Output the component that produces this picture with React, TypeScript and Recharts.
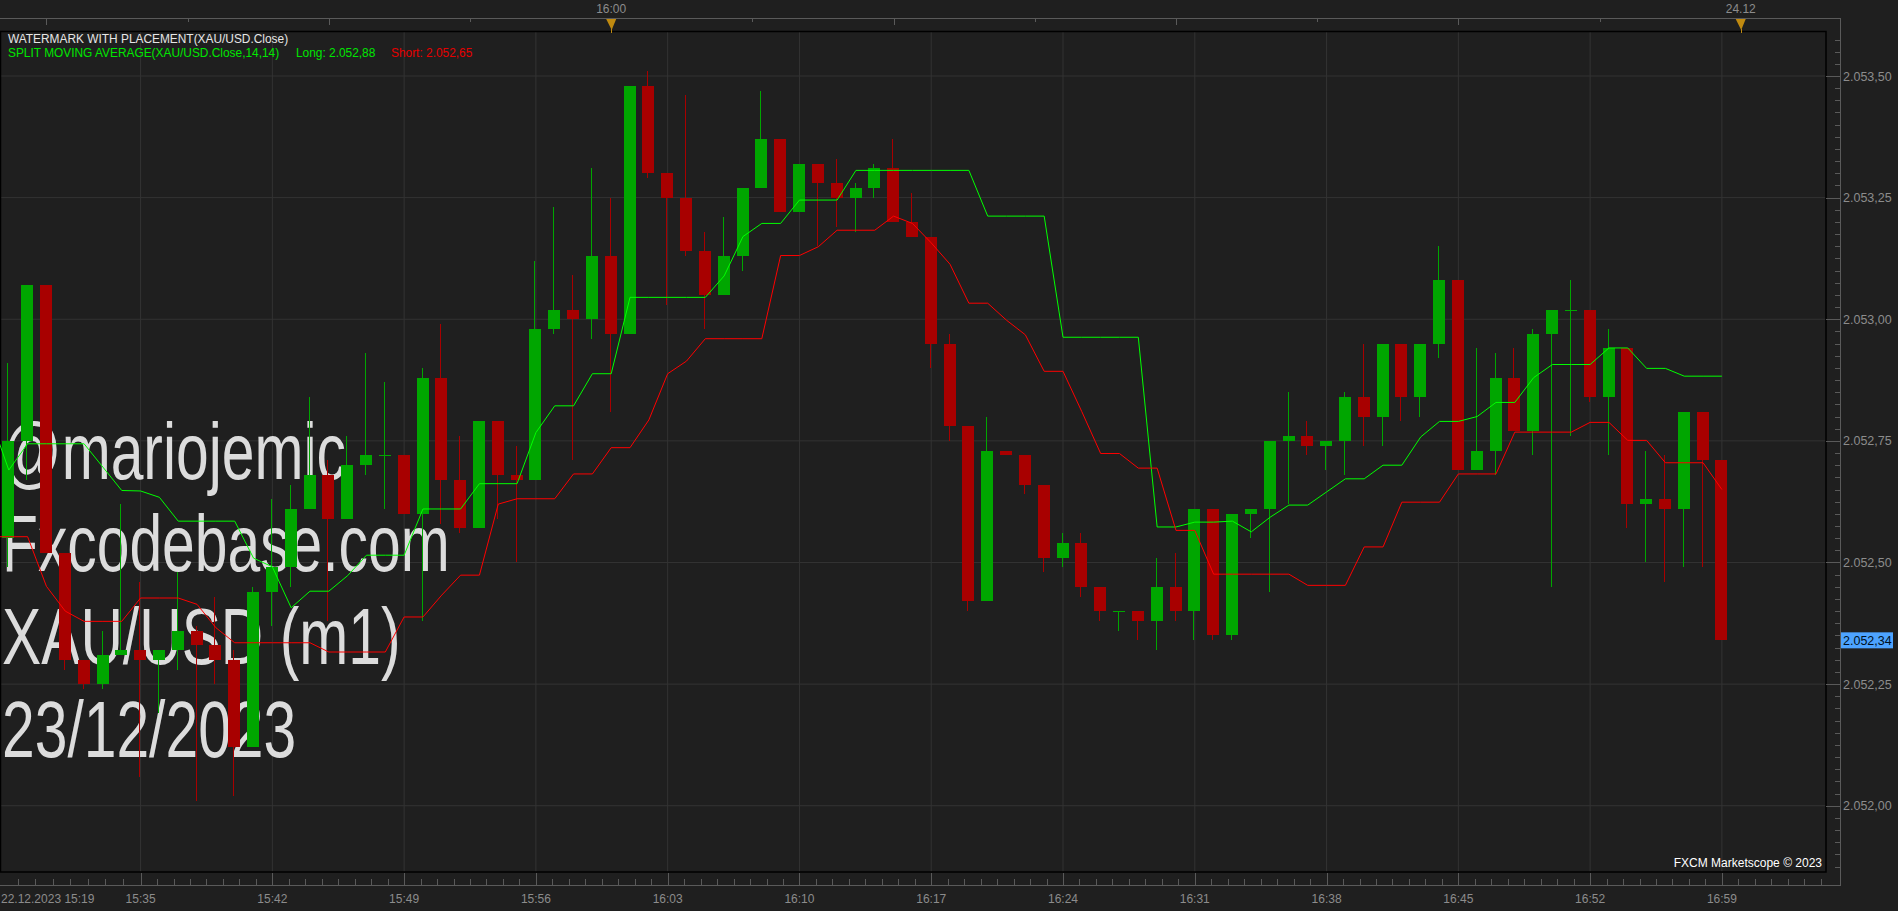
import React from 'react';
import { ComposedChart, Bar, Line, XAxis, YAxis, CartesianGrid, Customized } from 'recharts';

const TIMES = [
  '15:28','15:29','15:30','15:31','15:32','15:33','15:34','15:35','15:36','15:37',
  '15:38','15:39','15:40','15:41','15:42','15:43','15:44','15:45','15:46','15:47',
  '15:48','15:49','15:50','15:51','15:52','15:53','15:54','15:55','15:56','15:57',
  '15:58','15:59','16:00','16:01','16:02','16:03','16:04','16:05','16:06','16:07',
  '16:08','16:09','16:10','16:11','16:12','16:13','16:14','16:15','16:16','16:17',
  '16:18','16:19','16:20','16:21','16:22','16:23','16:24','16:25','16:26','16:27',
  '16:28','16:29','16:30','16:31','16:32','16:33','16:34','16:35','16:36','16:37',
  '16:38','16:39','16:40','16:41','16:42','16:43','16:44','16:45','16:46','16:47',
  '16:48','16:49','16:50','16:51','16:52','16:53','16:54','16:55','16:56','16:57',
  '16:58','16:59',
];

const OPEN = [
  2052.55, 2052.75, 2053.07, 2052.52, 2052.30, 2052.25, 2052.31, 2052.32, 2052.30, 2052.32,
  2052.36, 2052.33, 2052.30, 2052.12, 2052.44, 2052.49, 2052.61, 2052.68, 2052.59, 2052.70,
  2052.72, 2052.72, 2052.60, 2052.88, 2052.67, 2052.57, 2052.79, 2052.68, 2052.67, 2052.98,
  2053.02, 2053.00, 2053.13, 2052.97, 2053.48, 2053.30, 2053.25, 2053.14, 2053.05, 2053.13,
  2053.27, 2053.37, 2053.22, 2053.32, 2053.28, 2053.25, 2053.27, 2053.31, 2053.20, 2053.17,
  2052.95, 2052.78, 2052.42, 2052.73, 2052.72, 2052.66, 2052.51, 2052.54, 2052.45, 2052.40,
  2052.40, 2052.38, 2052.45, 2052.40, 2052.61, 2052.35, 2052.60, 2052.61, 2052.75, 2052.76,
  2052.74, 2052.75, 2052.84, 2052.80, 2052.95, 2052.84, 2052.95, 2053.08, 2052.69, 2052.73,
  2052.88, 2052.77, 2052.97, 2053.02, 2053.02, 2052.84, 2052.94, 2052.62, 2052.63, 2052.61,
  2052.81, 2052.71,
];

const HIGH = [
  2052.91, 2053.07, 2053.07, 2052.52, 2052.30, 2052.36, 2052.62, 2052.46, 2052.32, 2052.48,
  2052.37, 2052.43, 2052.32, 2052.45, 2052.63, 2052.66, 2052.84, 2052.71, 2052.76, 2052.93,
  2052.87, 2052.72, 2052.90, 2052.99, 2052.76, 2052.79, 2052.79, 2052.74, 2053.12, 2053.23,
  2053.09, 2053.31, 2053.25, 2053.48, 2053.51, 2053.30, 2053.46, 2053.18, 2053.21, 2053.27,
  2053.47, 2053.37, 2053.32, 2053.32, 2053.33, 2053.28, 2053.32, 2053.37, 2053.26, 2053.17,
  2052.97, 2052.78, 2052.80, 2052.73, 2052.72, 2052.66, 2052.56, 2052.56, 2052.45, 2052.40,
  2052.40, 2052.51, 2052.52, 2052.61, 2052.61, 2052.60, 2052.61, 2052.75, 2052.85, 2052.79,
  2052.75, 2052.85, 2052.95, 2052.95, 2052.95, 2052.95, 2053.15, 2053.08, 2052.94, 2052.93,
  2052.94, 2052.98, 2053.02, 2053.08, 2053.02, 2052.98, 2052.94, 2052.73, 2052.72, 2052.81,
  2052.81, 2052.71,
];

const LOW = [
  2052.49, 2052.67, 2052.52, 2052.28, 2052.24, 2052.24, 2052.31, 2052.06, 2052.19, 2052.28,
  2052.01, 2052.25, 2052.02, 2052.12, 2052.37, 2052.45, 2052.61, 2052.38, 2052.59, 2052.68,
  2052.61, 2052.60, 2052.38, 2052.58, 2052.56, 2052.57, 2052.59, 2052.50, 2052.67, 2052.97,
  2052.71, 2052.96, 2052.81, 2052.97, 2053.29, 2053.03, 2053.13, 2052.98, 2053.05, 2053.10,
  2053.27, 2053.22, 2053.22, 2053.15, 2053.19, 2053.18, 2053.25, 2053.20, 2053.17, 2052.90,
  2052.75, 2052.40, 2052.42, 2052.72, 2052.64, 2052.48, 2052.49, 2052.43, 2052.38, 2052.36,
  2052.34, 2052.32, 2052.38, 2052.34, 2052.34, 2052.34, 2052.55, 2052.44, 2052.62, 2052.72,
  2052.69, 2052.68, 2052.74, 2052.74, 2052.79, 2052.80, 2052.92, 2052.69, 2052.69, 2052.68,
  2052.77, 2052.72, 2052.45, 2052.76, 2052.83, 2052.72, 2052.57, 2052.50, 2052.46, 2052.49,
  2052.49, 2052.34,
];

const CLOSE = [
  2052.75, 2053.07, 2052.52, 2052.30, 2052.25, 2052.31, 2052.32, 2052.30, 2052.32, 2052.36,
  2052.33, 2052.30, 2052.12, 2052.44, 2052.49, 2052.61, 2052.68, 2052.59, 2052.70, 2052.72,
  2052.72, 2052.60, 2052.88, 2052.67, 2052.57, 2052.79, 2052.68, 2052.67, 2052.98, 2053.02,
  2053.00, 2053.13, 2052.97, 2053.48, 2053.30, 2053.25, 2053.14, 2053.05, 2053.13, 2053.27,
  2053.37, 2053.22, 2053.32, 2053.28, 2053.25, 2053.27, 2053.31, 2053.20, 2053.17, 2052.95,
  2052.78, 2052.42, 2052.73, 2052.72, 2052.66, 2052.51, 2052.54, 2052.45, 2052.40, 2052.40,
  2052.38, 2052.45, 2052.40, 2052.61, 2052.35, 2052.60, 2052.61, 2052.75, 2052.76, 2052.74,
  2052.75, 2052.84, 2052.80, 2052.95, 2052.84, 2052.95, 2053.08, 2052.69, 2052.73, 2052.88,
  2052.77, 2052.97, 2053.02, 2053.02, 2052.84, 2052.94, 2052.62, 2052.63, 2052.61, 2052.81,
  2052.71, 2052.34,
];

// first value belongs to the bar just before 15:28 (left edge of the view)
const LONG_MA = [
  2052.80,
  2052.69, 2052.744, 2052.744, 2052.744, 2052.744, 2052.696, 2052.648, 2052.647, 2052.634, 2052.585,
  2052.585, 2052.585, 2052.585, 2052.509, 2052.491, 2052.407, 2052.441, 2052.441, 2052.473, 2052.515,
  2052.515, 2052.515, 2052.61, 2052.61, 2052.61, 2052.662, 2052.662, 2052.662, 2052.767, 2052.822,
  2052.822, 2052.888, 2052.888, 2053.045, 2053.045, 2053.045, 2053.045, 2053.045, 2053.089, 2053.17,
  2053.197, 2053.197, 2053.245, 2053.245, 2053.245, 2053.306, 2053.306, 2053.306, 2053.306, 2053.306,
  2053.306, 2053.306, 2053.212, 2053.212, 2053.212, 2053.212, 2052.963, 2052.963, 2052.963, 2052.963,
  2052.963, 2052.573, 2052.573, 2052.583, 2052.583, 2052.585, 2052.563, 2052.593, 2052.618, 2052.618,
  2052.645, 2052.672, 2052.672, 2052.70, 2052.70, 2052.758, 2052.79, 2052.79, 2052.80, 2052.829,
  2052.829, 2052.88, 2052.907, 2052.907, 2052.907, 2052.941, 2052.941, 2052.899, 2052.899, 2052.883,
  2052.883, 2052.883,
];

const SHORT_MA = [
  2052.553,
  2052.553, 2052.553, 2052.451, 2052.40, 2052.379, 2052.379, 2052.379, 2052.427, 2052.427, 2052.427,
  2052.414, 2052.366, 2052.335, 2052.335, 2052.335, 2052.335, 2052.335, 2052.316, 2052.316, 2052.316,
  2052.316, 2052.388, 2052.388, 2052.433, 2052.474, 2052.474, 2052.62, 2052.631, 2052.631, 2052.631,
  2052.682, 2052.682, 2052.736, 2052.736, 2052.793, 2052.888, 2052.914, 2052.96, 2052.96, 2052.96,
  2052.96, 2053.131, 2053.131, 2053.149, 2053.183, 2053.183, 2053.183, 2053.212, 2053.197, 2053.157,
  2053.113, 2053.033, 2053.033, 2052.998, 2052.968, 2052.893, 2052.893, 2052.81, 2052.724, 2052.724,
  2052.694, 2052.694, 2052.566, 2052.566, 2052.476, 2052.476, 2052.476, 2052.476, 2052.476, 2052.453,
  2052.453, 2052.453, 2052.532, 2052.532, 2052.624, 2052.624, 2052.624, 2052.682, 2052.682, 2052.682,
  2052.768, 2052.768, 2052.768, 2052.768, 2052.788, 2052.788, 2052.751, 2052.751, 2052.705, 2052.705,
  2052.705, 2052.65,
];

const BOTTOM_TICKS = [7, 14, 21, 28, 35, 42, 49, 56, 63, 70, 77, 84, 91];
const BOTTOM_LABELS = ['15:35', '15:42', '15:49', '15:56', '16:03', '16:10', '16:17', '16:24', '16:31', '16:38', '16:45', '16:52', '16:59'];
const FIRST_LABEL = '22.12.2023 15:19';
const TOP_TICKS = [2, 9.5, 17, 24.5, 32, 39.5, 47, 54.5, 62, 69.5, 77, 84.5, 92];
const TOP_TALL = [2, 17, 47, 62, 77];
const TOP_MARKERS = [32, 92];
const TOP_MARKER_LABELS = ['16:00', '24.12'];
const PRICE_TICKS = [2052.0, 2052.25, 2052.5, 2052.75, 2053.0, 2053.25, 2053.5];
const WATERMARK_LINES = ['@mariojemic', 'Fxcodebase.com', 'XAU/USD (m1)', '23/12/2023'];
const LEGEND_TITLE = 'WATERMARK WITH PLACEMENT(XAU/USD.Close)';
const LEGEND_MA = 'SPLIT MOVING AVERAGE(XAU/USD.Close,14,14)';
const COPYRIGHT = 'FXCM Marketscope © 2023';

const W = 1898;
const H = 911;
const X_MIN = -0.467;
const X_MAX = 96.53;
const Y_MIN = 2051.8638;
const Y_MAX = 2053.5925;
const LAST_CLOSE = CLOSE[CLOSE.length - 1];

const BG = '#1f1f1f';
const GRID = '#333333';
const FRAME = '#5a5a5a';
const AXIS_TXT = '#8c8c8c';
const UP = '#00a600';
const DOWN = '#a80000';
const FONT = "'Liberation Sans', Arial, sans-serif";

const fmt = (v: number) => {
  const [ip, dp] = v.toFixed(2).split('.');
  return ip.replace(/\B(?=(\d{3})+(?!\d))/g, '.') + ',' + dp;
};

const rows: any[] = [
  { i: -1, long: LONG_MA[0], short: SHORT_MA[0] },
  ...TIMES.map((t, k) => ({
    i: k,
    t,
    o: OPEN[k],
    hi: HIGH[k],
    lo: LOW[k],
    c: CLOSE[k],
    range: [LOW[k], HIGH[k]],
    long: LONG_MA[k + 1],
    short: SHORT_MA[k + 1],
  })),
];

// y ticks: minor every 0.025, plus the last price tag
const yTicks: number[] = [];
for (let k = 0; k <= 68; k++) {
  const v = Math.round((2051.875 + k * 0.025) * 1000) / 1000;
  if (v <= Y_MAX) yTicks.push(v);
}
yTicks.push(LAST_CLOSE);
yTicks.sort((a, b) => a - b);

// bottom ticks: each labelled segment split into 8 parts
const xTicks: number[] = [X_MIN];
{
  const starts = [X_MIN, ...BOTTOM_TICKS];
  for (let s = 0; s < starts.length; s++) {
    const a = starts[s];
    const b = s + 1 < starts.length ? starts[s + 1] : a + 7;
    for (let k = 1; k <= 8; k++) {
      const v = a + ((b - a) * k) / 8;
      if (v < X_MAX) xTicks.push(Math.round(v * 10000) / 10000);
    }
  }
}

const isMajorY = (v: number) => Math.abs(v * 4 - Math.round(v * 4)) < 1e-6;

const Candle = (props: any) => {
  const { x, y, width, height, payload } = props;
  if (!payload || payload.o == null || !isFinite(y) || !isFinite(height)) return <g />;
  const top = Math.min(y, y + height);
  const h = Math.abs(height);
  const { o, c, hi, lo } = payload;
  const span = hi - lo;
  const py = (v: number) => (span > 0 ? top + ((hi - v) / span) * h : top);
  const color = c >= o ? UP : DOWN;
  const bx = Math.round(x);
  const bw = Math.round(width);
  const cx = bx + Math.floor(bw / 2) - 0.5;
  const bt = Math.round(py(Math.max(o, c)));
  const bb = Math.round(py(Math.min(o, c)));
  return (
    <g>
      <line x1={cx} x2={cx} y1={Math.round(top)} y2={Math.round(top + h)} stroke={color} strokeWidth={1} />
      <rect x={bx} y={bt} width={bw} height={Math.max(1, bb - bt)} fill={color} />
    </g>
  );
};

const YTick = (props: any) => {
  const { x, y, payload } = props;
  const v = payload.value;
  const yy = Math.round(y) + 0.5;
  if (Math.abs(v - LAST_CLOSE) < 1e-9) {
    return (
      <g>
        <rect x={x + 15} y={y - 8} width={52} height={16} fill="#4da3ff" />
        <text x={x + 17} y={y} dy="0.36em" fill="#001020" fontSize={12.5} fontFamily={FONT}>
          {fmt(v)}
        </text>
      </g>
    );
  }
  const major = isMajorY(v);
  return (
    <g>
      <line x1={major ? x : x + 9} x2={x + 15} y1={yy} y2={yy} stroke={FRAME} strokeWidth={1} />
      {major && (
        <text x={x + 17} y={y} dy="0.36em" fill={AXIS_TXT} fontSize={12.5} fontFamily={FONT}>
          {fmt(v)}
        </text>
      )}
    </g>
  );
};

const BottomTick = (props: any) => {
  const { x, y, payload } = props;
  const v = payload.value;
  const xx = Math.round(x) + 0.5;
  if (Math.abs(v - X_MIN) < 1e-6) {
    return (
      <text x={1} y={y + 31} fill={AXIS_TXT} fontSize={12} fontFamily={FONT} textAnchor="start">
        {FIRST_LABEL}
      </text>
    );
  }
  const idx = BOTTOM_TICKS.indexOf(v);
  if (idx >= 0) {
    return (
      <g>
        <line x1={xx} x2={xx} y1={y + 1} y2={y + 13} stroke={FRAME} strokeWidth={1} />
        <text x={x} y={y + 31} fill={AXIS_TXT} fontSize={12} fontFamily={FONT} textAnchor="middle">
          {BOTTOM_LABELS[idx]}
        </text>
      </g>
    );
  }
  return <line x1={xx} x2={xx} y1={y + 7} y2={y + 13} stroke={FRAME} strokeWidth={1} />;
};

const TopTick = (props: any) => {
  const { x, y, payload } = props;
  const v = payload.value;
  const xx = Math.round(x) + 0.5;
  const mi = TOP_MARKERS.indexOf(v);
  if (mi >= 0) {
    return (
      <g>
        <path d={`M${x - 5},${y - 12} L${x + 5},${y - 12} L${x + 0.5},${y - 1} Z`} fill="#c08a10" />
        <line x1={xx} x2={xx} y1={y - 2} y2={y + 2} stroke="#c08a10" strokeWidth={1} />
        <text x={x} y={y - 18} fill={AXIS_TXT} fontSize={12} fontFamily={FONT} textAnchor="middle">
          {TOP_MARKER_LABELS[mi]}
        </text>
      </g>
    );
  }
  const tall = TOP_TALL.indexOf(v) >= 0;
  return <line x1={xx} x2={xx} y1={y - 13} y2={y - (tall ? 6 : 9)} stroke={FRAME} strokeWidth={1} />;
};

const Watermark = () => (
  <g>
    {WATERMARK_LINES.map((s, k) => (
      <text
        key={k}
        transform={`translate(2, ${478.6 + k * 92.8}) scale(0.735, 1)`}
        fontSize={80}
        fontFamily={FONT}
        fill="#dcdcdc"
      >
        {s}
      </text>
    ))}
  </g>
);

const Overlay = () => (
  <g>
    <line x1={0} x2={1841} y1={18.5} y2={18.5} stroke={FRAME} strokeWidth={1} />
    <line x1={1840.5} x2={1840.5} y1={18} y2={886} stroke={FRAME} strokeWidth={1} />
    <line x1={0} x2={1841} y1={885.5} y2={885.5} stroke={FRAME} strokeWidth={1} />
    <rect x={0.5} y={31.5} width={1825.5} height={840.5} fill="none" stroke="#000000" strokeWidth={1.5} />
    <text x={8} y={43} fill="#e6e6e6" fontSize={11.9} fontFamily={FONT}>
      {LEGEND_TITLE}
    </text>
    <text x={8} y={56.5} fill="#00e600" fontSize={11.9} fontFamily={FONT}>
      {LEGEND_MA}
    </text>
    <text x={296} y={56.5} fill="#00e600" fontSize={11.9} fontFamily={FONT}>
      {'Long: ' + fmt(LONG_MA[LONG_MA.length - 1])}
    </text>
    <text x={391} y={56.5} fill="#e60000" fontSize={11.9} fontFamily={FONT}>
      {'Short: ' + fmt(SHORT_MA[SHORT_MA.length - 1])}
    </text>
    <text x={1822} y={867} fill="#ffffff" fontSize={12} fontFamily={FONT} textAnchor="end">
      {COPYRIGHT}
    </text>
  </g>
);

export default function App() {
  return (
    <div style={{ position: 'absolute', left: 0, top: 0, width: W, height: H, background: BG, overflow: 'hidden' }}>
      <ComposedChart width={W} height={H} data={rows} margin={{ top: 0, right: 0, bottom: 0, left: 0 }}>
        <CartesianGrid stroke={GRID} horizontalValues={PRICE_TICKS} verticalValues={BOTTOM_TICKS} />
        <Customized component={Watermark} />
        <XAxis
          dataKey="i"
          type="number"
          domain={[X_MIN, X_MAX]}
          allowDataOverflow
          ticks={xTicks}
          interval={0}
          tick={(p: any) => <BottomTick {...p} />}
          tickLine={false}
          axisLine={false}
          tickSize={0}
          tickMargin={0}
          height={39}
          orientation="bottom"
        />
        <XAxis
          xAxisId="top"
          dataKey="i"
          type="number"
          domain={[X_MIN, X_MAX]}
          allowDataOverflow
          ticks={TOP_TICKS}
          interval={0}
          tick={(p: any) => <TopTick {...p} />}
          tickLine={false}
          axisLine={false}
          tickSize={0}
          tickMargin={0}
          height={31}
          orientation="top"
        />
        <YAxis
          type="number"
          orientation="right"
          domain={[Y_MIN, Y_MAX]}
          allowDataOverflow
          ticks={yTicks}
          interval={0}
          tick={(p: any) => <YTick {...p} />}
          tickLine={false}
          axisLine={false}
          tickSize={0}
          tickMargin={0}
          width={72}
        />
        <Bar dataKey="range" barSize={12} shape={(p: any) => <Candle {...p} />} isAnimationActive={false} />
        <Line dataKey="long" type="linear" stroke="#00ff00" strokeWidth={1} dot={false} activeDot={false} isAnimationActive={false} />
        <Line dataKey="short" type="linear" stroke="#ff0000" strokeWidth={1} dot={false} activeDot={false} isAnimationActive={false} />
        <Customized component={Overlay} />
      </ComposedChart>
    </div>
  );
}
